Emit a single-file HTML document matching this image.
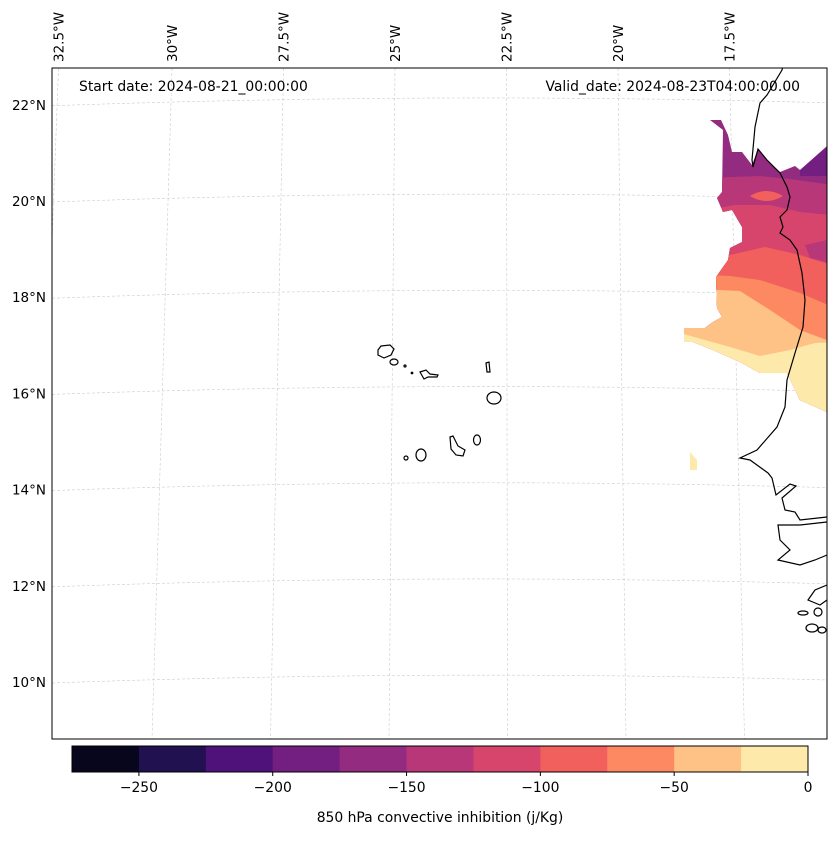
<!DOCTYPE html>
<html><head><meta charset="utf-8">
<style>
body{margin:0;background:#fff;}
svg text{font-family:"DejaVu Sans","Liberation Sans",sans-serif;fill:#000;}
</style></head>
<body>
<svg id="chart" width="837" height="836" viewBox="0 0 837 836" xmlns="http://www.w3.org/2000/svg">
<defs>
<clipPath id="plotclip"><rect x="52" y="68" width="775" height="671"/></clipPath>
<clipPath id="regionclip"><path d="M710,120 L721,120 L728,135 L732,152 L742,152 L752,165 L758,149 L767,160 L780,172 L795,166 L800,170 L827,146 L827,412 L800,400 L787,373 L780,373 L760,373 L740,362 L713,350 L693,342 L684,342 L684,328 L705,328 L713,322 L722,317 L717,308 L716,277 L728,260 L730,248 L742,242 L742,227 L732,210 L723,212 L717,198 L722,192 L723,130 Z"/></clipPath>
</defs>
<g id="gridlines"></g>
<g id="fills" clip-path="url(#regionclip)"></g>
<path d="M690,452 L697,460 L697,470 L690,470 Z" fill="#fde9a9"/>
<g fill="none" stroke="#000" stroke-width="1.2" clip-path="url(#plotclip)">
<path d="M784,62 L782,70 L767,95 L760,103 L755,127 L752,160 L753,167 L758,149 L767,160 L780,173 L787,187 L790,197 L787,210 L780,217 L783,227 L780,233 L790,240 L797,250 L802,273 L805,300 L803,327 L795,353 L787,380 L785,407 L777,427 L757,450 L740,458 L750,460 L768,473 L772,478 L776,495 L790,484 L796,486 L782,498 L785,510 L795,512 L800,520 L827,517"/>
<path d="M827,522 L800,525 L778,525 L780,540 L790,550 L778,560 L800,565 L815,560 L827,555"/>
<path d="M827,585 L815,590 L808,600 L820,605 L827,600"/>
<ellipse cx="803" cy="613" rx="5" ry="2"/><ellipse cx="818" cy="612" rx="4" ry="4"/><ellipse cx="812" cy="628" rx="6" ry="4"/><ellipse cx="822" cy="630" rx="4" ry="3"/>
<path d="M378,350 L381,346 L390,345 L394,349 L391,355 L384,358 L378,355 Z"/>
<ellipse cx="394" cy="362" rx="4" ry="3"/>
<circle cx="405" cy="366" r="1"/><circle cx="412" cy="373" r="0.8"/>
<path d="M420,372 L426,370 L430,374 L438,375 L437,377 L428,377 L424,379 Z"/>
<path d="M486,363 L489,362 L490,372 L487,372 Z"/>
<ellipse cx="494" cy="398" rx="7" ry="6"/>
<ellipse cx="477" cy="440" rx="3.5" ry="5"/>
<path d="M450,437 L453,436 L458,446 L465,450 L463,456 L456,455 L451,449 Z"/>
<ellipse cx="421" cy="455" rx="5" ry="6"/>
<circle cx="406" cy="458" r="2"/>
</g>
<rect x="52" y="68" width="775" height="671" fill="none" stroke="#000" stroke-width="1"/>
<text x="79" y="91" font-size="13.9">Start date: 2024-08-21_00:00:00</text>
<text x="800" y="91" font-size="13.9" text-anchor="end">Valid_date: 2024-08-23T04:00:00.00</text>
<g id="lonlabels"></g>
<g id="latlabels"></g>
<g id="colorbar"></g>
<text x="440" y="822" font-size="13.9" text-anchor="middle">850 hPa convective inhibition (j/Kg)</text>
</svg>
<script>
const levels = [-275,-250,-225,-200,-175,-150,-125,-100,-75,-50,-25,0];
const levelColors = ["#07061c","#221150","#4f127b","#721f81","#932b80","#b73779","#d8456c","#f1605d","#fc8961","#fec287","#fde9a9"];
const cbTicks = [-250,-200,-150,-100,-50,0];
const latTicks = [22,20,18,16,14,12,10];
const lonTicks = [-32.5,-30,-27.5,-25,-22.5,-20,-17.5];
const NS="http://www.w3.org/2000/svg";
function mk(tag,attrs,parent){const e=document.createElementNS(NS,tag);for(const k in attrs)e.setAttribute(k,attrs[k]);parent.appendChild(e);return e;}
const cbX = v => 72 + (v - levels[0]) / (levels[levels.length-1]-levels[0]) * 736;
const latY = lat => 202 + (20 - lat) * 48.1;
const lonTopX = lon => 172 + (lon + 30) * 44.6;
const lonBotX = lon => 152 + (lon + 30) * 47.4;
const grid=document.getElementById('gridlines');
latTicks.forEach(lat=>{const y=latY(lat);
 const p=mk('path',{d:`M52,${y} Q440,${y-14} 827,${y-3}`,fill:'none',stroke:'#ccc','stroke-width':0.6,'stroke-dasharray':'3,2','clip-path':'url(#plotclip)'},grid);
 
 
 const t=mk('text',{x:46,y:y+4,'font-size':13.5,'text-anchor':'end'},document.getElementById('latlabels'));
 t.textContent=lat+'°N';
 
 
});
lonTicks.forEach(lon=>{const xt=lonTopX(lon)-(lon===-32.5?2:0), xb=lonBotX(lon);
 const l=mk('line',{x1:xt,y1:68,x2:xb,y2:739,stroke:'#ccc','stroke-width':0.6,'stroke-dasharray':'3,2','clip-path':'url(#plotclip)'},grid);
 
 
 const lx=xt+5;
 const t=mk('text',{x:lx,y:62,'font-size':13.5,transform:`rotate(-90 ${lx} 62)`},document.getElementById('lonlabels'));
 t.textContent=Math.abs(lon)+'°W';
 
 
});
const fills=document.getElementById('fills');
const bands=[
 {c:levelColors[4],d:"M680,100 L840,100 L840,420 L680,420 Z"},
 {c:levelColors[3],d:"M800,170 L827,147 L840,140 L840,176 L800,176 Z"},
 {c:levelColors[5],d:"M680,180 L730,177 L760,176 L790,179 L840,186 L840,420 L680,420 Z"},
 {c:levelColors[6],d:"M680,215 L735,205 L770,205 L800,212 L840,216 L840,420 L680,420 Z"},
 {c:levelColors[5],d:"M805,245 L827,240 L840,240 L840,265 L810,258 Z"},
 {c:levelColors[7],d:"M750,196 Q766,186 783,196 Q766,206 750,196 Z"},
 {c:levelColors[7],d:"M680,262 L730,255 L765,247 L800,255 L840,268 L840,420 L680,420 Z"},
 {c:levelColors[8],d:"M680,274 L730,276 L760,280 L800,293 L840,310 L840,420 L680,420 Z"},
 {c:levelColors[9],d:"M680,288 L740,291 L770,310 L800,330 L840,345 L840,420 L680,420 Z"},
 {c:levelColors[10],d:"M680,333 L730,347 L760,356 L790,350 L815,343 L840,342 L840,420 L680,420 Z"}
];
bands.forEach(b=>{const p=mk('path',{d:b.d,fill:b.c},fills);
 
 });
const cb=document.getElementById('colorbar');
levelColors.forEach((c,i)=>{const x0=cbX(levels[i]),x1=cbX(levels[i+1]);
 const r=mk('rect',{x:x0,y:746,width:x1-x0+0.5,height:26,fill:c},cb);
 
 });
mk('rect',{x:72,y:746,width:736,height:26,fill:'none',stroke:'#000','stroke-width':1},cb);
cbTicks.forEach(v=>{const x=cbX(v);
 mk('line',{x1:x,y1:772,x2:x,y2:776,stroke:'#000'},cb);
 const t=mk('text',{x:x,y:792,'font-size':13.9,'text-anchor':'middle'},cb);
 t.textContent=v<0?'\u2212'+Math.abs(v):String(v);
 
 });
</script>
</body></html>
